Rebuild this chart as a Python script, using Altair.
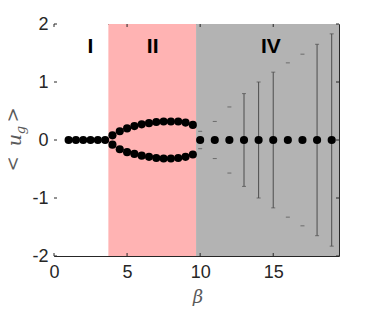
import altair as alt
import pandas as pd

# ---- data ----
beta_I = [1.0, 1.5, 2.0, 2.5, 3.0, 3.5]
u_I = [0, 0, 0, 0, 0, 0]

beta_II = [4.0, 4.5, 5.0, 5.5, 6.0, 6.5, 7.0, 7.5, 8.0, 8.5, 9.0, 9.5]
u_II_up = [0.08, 0.15, 0.20, 0.24, 0.27, 0.29, 0.31, 0.32, 0.32, 0.32, 0.30, 0.26]
u_II_dn = [-0.08, -0.16, -0.21, -0.24, -0.27, -0.29, -0.31, -0.32, -0.32, -0.31, -0.29, -0.25]

beta_IV = [10, 11, 12, 13, 14, 15, 16, 17, 18, 19]
u_IV = [0, 0, 0, 0, 0, 0, 0, 0, 0, 0]
err_IV = [0.15, 0.32, 0.57, 0.80, 1.00, 1.17, 1.33, 1.48, 1.65, 1.83]
bar_drawn = [False, False, False, True, True, True, False, False, True, True]

region_start = [0, 3.72, 9.72]
region_end = [3.72, 9.72, 19.5]
region_color = ["#ffffff", "#ffb3b3", "#b3b3b3"]

label_text = ["I", "II", "IV"]
label_x = [2.5, 6.75, 14.84]
label_y = [1.61, 1.61, 1.61]

x_ticks = [0, 5, 10, 15]
y_ticks = [-2, -1, 0, 1, 2]

W, H = 285, 232
XDOM = [0, 19.5]
YDOM = [-2, 2]

# ---- tables ----
pts = pd.DataFrame({
    "beta": beta_I + beta_II + beta_II + beta_IV,
    "u": u_I + u_II_up + u_II_dn + u_IV,
})
errs = pd.DataFrame({
    "beta": beta_IV,
    "lo": [-e for e in err_IV],
    "hi": err_IV,
    "drawn": bar_drawn,
})
caps = pd.DataFrame({
    "beta": beta_IV + beta_IV,
    "v": [-e for e in err_IV] + err_IV,
})
regions = pd.DataFrame({"x0": region_start, "x1": region_end, "c": region_color})
labels = pd.DataFrame({"t": label_text, "x": label_x, "y": label_y})
xt = pd.DataFrame({"v": x_ticks})
yt = pd.DataFrame({"v": y_ticks})

xs = alt.Scale(domain=XDOM, nice=False, zero=False)
ys = alt.Scale(domain=YDOM, nice=False, zero=False)

FONT = "Liberation Sans"

xaxis = alt.Axis(values=x_ticks, ticks=False, domain=False, grid=False, labelFont=FONT,
                 labelFontSize=18, labelColor="#262626", labelPadding=7, title=None,
                 labelFlush=False, labelExpr="'' + datum.value")
yaxis = alt.Axis(values=y_ticks, ticks=False, domain=False, grid=False, labelFont=FONT,
                 labelFontSize=18, labelColor="#262626", labelPadding=6, title=None,
                 labelFlush=False, labelExpr="'' + datum.value")

bg = alt.Chart(regions).mark_rect().encode(
    x=alt.X("x0:Q", scale=xs, axis=xaxis),
    x2="x1:Q",
    y=alt.value(0),
    y2=alt.value(H),
    color=alt.Color("c:N", scale=None),
)

bars = alt.Chart(errs).transform_filter("datum.drawn").mark_rule(
    color="#4d4d4d", strokeWidth=1
).encode(
    x=alt.X("beta:Q", scale=xs),
    y=alt.Y("lo:Q", scale=ys, axis=yaxis),
    y2="hi:Q",
)

capm = alt.Chart(caps).mark_tick(
    orient="horizontal", size=4, thickness=1, color="#4d4d4d"
).encode(
    x=alt.X("beta:Q", scale=xs),
    y=alt.Y("v:Q", scale=ys),
)

dots = alt.Chart(pts).mark_circle(size=66, color="black", opacity=1).encode(
    x=alt.X("beta:Q", scale=xs),
    y=alt.Y("u:Q", scale=ys),
)

lbl = alt.Chart(labels).mark_text(
    font=FONT, fontSize=21, fontWeight="bold", color="black", baseline="middle"
).encode(
    x=alt.X("x:Q", scale=xs),
    y=alt.Y("y:Q", scale=ys),
    text="t:N",
)

# inside ticks (MATLAB style, on all four sides)
tk_l = alt.Chart(yt).mark_rule(color="#262626").encode(
    y=alt.Y("v:Q", scale=ys), x=alt.value(0), x2=alt.value(3))
tk_r = alt.Chart(yt).mark_rule(color="#262626").encode(
    y=alt.Y("v:Q", scale=ys), x=alt.value(W - 3), x2=alt.value(W))
tk_b = alt.Chart(xt).mark_rule(color="#262626").encode(
    x=alt.X("v:Q", scale=xs), y=alt.value(H - 3), y2=alt.value(H))
tk_t = alt.Chart(xt).mark_rule(color="#262626").encode(
    x=alt.X("v:Q", scale=xs), y=alt.value(0), y2=alt.value(3))

# axis titles as text
TC = "#5a5a5a"
SERIF = "DejaVu Serif"
beta_t = alt.Chart(pd.DataFrame({"t": ["β"]})).mark_text(
    font=SERIF, fontStyle="italic", fontSize=18, color=TC, baseline="middle"
).encode(text="t:N", x=alt.value(144), y=alt.value(274))

ytitle_parts = pd.DataFrame({
    "t": ["<", "u", "g", ">"],
    "px": [-40.5, -39.5, -33.5, -40.5],
    "py": [140, 116, 106, 91],
    "fs": [18, 19, 13, 18],
    "st": ["normal", "italic", "italic", "normal"],
})
yt_parts = []
for _, r in ytitle_parts.iterrows():
    yt_parts.append(
        alt.Chart(pd.DataFrame({"t": [r["t"]]})).mark_text(
            font=SERIF, fontStyle=r["st"], fontSize=int(r["fs"]), color=TC,
            angle=270, baseline="middle", align="center"
        ).encode(text="t:N", x=alt.value(float(r["px"])), y=alt.value(float(r["py"])))
    )

chart = alt.layer(
    bg, bars, capm, dots, lbl, tk_l, tk_r, tk_b, tk_t, beta_t, *yt_parts
).properties(
    width=W, height=H,
    autosize=alt.AutoSizeParams(type="none"),
    padding={"left": 46, "top": 16, "right": 27, "bottom": 50},
    background="white",
).configure_view(stroke="#262626", strokeWidth=1)

chart.save("out.html", embed_options={"renderer": "svg", "actions": False})
